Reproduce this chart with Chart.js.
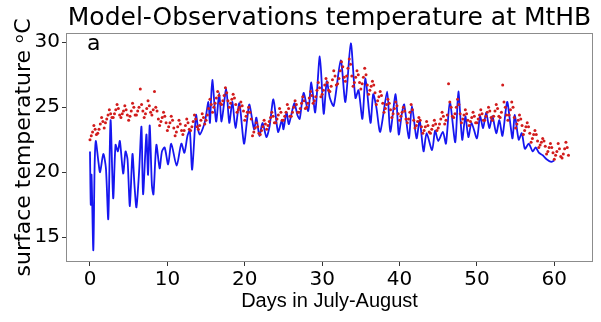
<!DOCTYPE html>
<html>
<head>
<meta charset="utf-8">
<script src="https://cdn.jsdelivr.net/npm/chart.js@4/dist/chart.umd.min.js"></script>
<style>
  html, body { margin: 0; padding: 0; background: #fff; }
  canvas { display: block; }
</style>
</head>
<body>
<canvas id="chart" width="601" height="322"></canvas>
<script>
/* Model vs observations at MtHB */
const xTicks = [0, 10, 20, 30, 40, 50, 60]
const yTicks = [15, 20, 25, 30]

// model (blue line): peaks and troughs, day -> temperature
const modelDays = [0.0, 0.1, 0.2, 0.43, 0.6, 0.75, 1.07, 1.3, 1.72, 2.06, 2.36, 2.66, 3.0, 3.3, 3.6, 3.86, 4.29, 4.59, 4.85, 5.15,
  5.49, 5.75, 6.0, 6.35, 6.65, 6.86, 7.29, 7.5, 7.72, 8.0, 8.2, 8.58, 9.0, 9.3, 9.65, 10.1, 10.5, 11.2, 11.8, 12.2,
  12.6, 12.9, 13.2, 13.7, 14.0, 14.2, 14.6, 14.9, 15.3, 15.5, 15.8, 16.3, 16.7, 17.0, 17.6, 18.0, 18.4, 18.8, 19.3, 19.9,
  20.3, 20.6, 21.2, 21.5, 21.9, 22.3, 22.8, 23.2, 23.7, 24.3, 24.8, 25.0, 25.4, 25.7, 26.4, 26.8, 27.1, 27.6, 28.2, 28.6,
  29.1, 29.7, 30.2, 30.6, 31.0, 31.5, 32.4, 33.0, 33.7, 34.3, 34.7, 35.2, 35.6, 36.25, 36.6, 37.0, 37.5, 38.4, 38.8, 39.5,
  39.9, 40.3, 40.6, 41.2, 41.6, 42.2, 42.6, 43.1, 43.5, 44.2, 44.6, 45.0, 45.6, 46.0, 46.5, 47.2, 47.6, 48.1, 48.5, 48.9,
  49.3, 50.0, 50.4, 50.8, 51.2, 51.6, 52.0, 52.5, 52.9, 53.3, 53.9, 54.3, 54.6, 54.9, 55.4, 55.8, 56.2, 56.7, 57.2, 57.6,
  58.0, 58.5, 59.0, 59.6, 60.0]
const modelTemp = [21.6, 17.5, 19.8, 14.0, 20.5, 22.4, 20.9, 20.0, 21.4, 20.3, 16.4, 24.0, 18.0, 22.1, 21.6, 22.4, 19.9, 21.6, 21.0, 17.4,
  21.4, 19.0, 17.3, 20.1, 23.5, 18.3, 22.9, 19.8, 23.6, 19.0, 18.3, 22.1, 20.3, 21.6, 21.9, 20.6, 22.2, 20.5, 22.2, 21.5,
  22.8, 23.2, 20.2, 24.4, 23.2, 22.9, 23.4, 24.0, 25.4, 23.8, 27.1, 23.9, 26.1, 23.9, 26.4, 23.8, 25.4, 23.4, 25.3, 22.2,
  24.0, 25.2, 23.3, 24.2, 22.8, 23.8, 22.7, 23.5, 25.6, 23.1, 24.0, 23.3, 24.6, 23.7, 25.3, 24.4, 24.1, 26.1, 24.7, 26.9,
  24.6, 28.9, 24.5, 27.0, 25.7, 25.1, 28.6, 25.4, 29.9, 25.7, 26.3, 24.1, 27.2, 23.8, 26.0, 25.0, 23.1, 26.2, 23.1, 26.0,
  22.9, 24.5, 25.2, 22.6, 25.1, 22.6, 24.0, 21.6, 23.0, 21.7, 23.2, 22.4, 23.1, 22.2, 25.4, 22.3, 26.2, 22.5, 24.3, 22.7,
  23.8, 22.6, 24.3, 23.4, 24.6, 23.4, 24.3, 23.0, 24.0, 22.8, 25.4, 23.8, 22.6, 24.4, 22.5, 23.0, 21.8, 22.2, 21.6, 21.9,
  21.5, 21.3, 21.0, 20.8, 20.9]

// observations (red dots): six readings a day from day 0, one row per day
const obsStep = 1 / 6
const obsTemp = [
  22.5, 22.8, 23.1, 23.6, 23.3, 22.9,   23.0, 23.3, 23.7, 24.2, 23.9, 23.4,   23.8, 24.1, 24.4, 24.8, 24.5, 24.2,
  24.2, 24.5, 24.8, 25.2, 24.9, 24.4,   24.2, 24.5, 24.7, 25.1, 24.8, 24.4,   24.0, 24.3, 24.7, 25.3, 25.0, 24.4,
  24.4, 24.7, 25.0, 26.4, 25.2, 24.7,   24.2, 24.5, 24.9, 25.5, 25.1, 24.6,   24.4, 24.8, 26.2, 25.0, 24.7, 24.1,
  23.6, 23.9, 24.2, 24.6, 24.3, 23.8,   23.2, 23.5, 23.8, 24.3, 24.0, 23.4,   22.8, 23.1, 23.5, 24.0, 23.7, 23.2,
  22.9, 23.2, 23.6, 24.1, 23.8, 23.3,   23.2, 23.5, 23.9, 24.4, 24.1, 23.5,   23.3, 23.6, 24.0, 24.5, 24.2, 23.7,
  24.0, 24.4, 24.9, 25.6, 25.2, 24.6,   25.0, 25.3, 25.7, 26.2, 25.9, 25.3,   25.2, 25.5, 25.9, 26.5, 26.1, 25.5,
  25.0, 25.3, 25.6, 26.0, 25.7, 25.2,   24.6, 24.8, 25.0, 25.4, 25.1, 24.7,   24.0, 24.3, 24.6, 25.0, 24.6, 24.1,
  22.8, 23.1, 23.4, 23.8, 23.5, 23.0,   22.9, 23.2, 23.5, 24.0, 23.7, 23.3,   23.6, 23.9, 24.2, 24.6, 24.3, 23.8,
  23.8, 24.1, 24.4, 24.9, 24.6, 24.0,   24.0, 24.3, 24.6, 25.2, 24.9, 24.3,   24.3, 24.6, 25.0, 25.5, 25.2, 24.6,
  24.6, 24.9, 25.3, 25.8, 25.5, 24.9,   25.0, 25.3, 25.7, 26.2, 25.9, 25.3,   25.5, 25.8, 26.3, 26.9, 26.5, 25.8,
  26.0, 26.3, 26.7, 27.2, 26.9, 26.3,   26.2, 26.6, 27.1, 27.8, 27.4, 26.7,   26.8, 27.2, 27.8, 28.5, 28.1, 27.3,
  27.0, 27.4, 28.0, 28.7, 28.3, 27.4,   26.6, 26.9, 27.3, 27.8, 27.5, 26.9,   26.4, 26.8, 27.3, 28.0, 27.5, 26.7,
  26.0, 26.3, 26.6, 27.0, 26.7, 26.1,   25.2, 25.5, 25.8, 26.2, 25.9, 25.3,   24.6, 24.9, 25.2, 25.6, 25.3, 24.8,
  24.2, 24.5, 24.9, 25.4, 25.1, 24.5,   24.0, 24.3, 24.6, 25.0, 24.7, 24.1,   23.8, 24.1, 24.6, 25.2, 24.8, 24.0,
  23.4, 23.6, 23.9, 24.2, 24.0, 23.5,   23.0, 23.2, 23.5, 23.9, 23.6, 23.1,   23.0, 23.3, 23.6, 24.0, 23.7, 23.2,
  23.4, 23.7, 24.1, 24.6, 24.3, 23.7,   24.0, 24.4, 26.8, 25.4, 25.0, 24.3,   24.2, 24.5, 25.0, 25.6, 25.2, 24.5,
  23.8, 24.1, 24.4, 24.8, 24.5, 24.0,   23.6, 23.9, 24.2, 24.6, 24.3, 23.8,   23.8, 24.1, 24.4, 24.8, 24.5, 24.0,
  24.0, 24.3, 24.6, 25.0, 24.7, 24.2,   24.0, 24.3, 24.7, 25.2, 24.9, 24.3,   24.2, 24.6, 26.7, 25.4, 25.0, 24.4,
  24.0, 24.4, 24.8, 25.4, 25.0, 24.2,   23.4, 23.7, 24.0, 24.4, 24.1, 23.6,   22.9, 23.2, 23.5, 23.8, 23.5, 23.0,
  22.3, 22.6, 22.9, 23.2, 22.9, 22.4,   21.9, 22.1, 22.3, 22.6, 22.4, 22.0,   21.4, 21.6, 21.9, 22.2, 21.9, 21.5,
  21.0, 21.3, 21.6, 22.2, 21.8, 21.2,   21.1, 21.4, 21.8, 22.3, 21.9, 21.3
]

const FONT = '"DejaVu Sans", sans-serif'

// grey box round the plot plus the panel letter
const frame = {
  id: 'frame',
  afterDatasetsDraw (chart) {
    const { ctx, chartArea: a } = chart
    ctx.save()
    ctx.strokeStyle = '#8c8c8c'
    ctx.lineWidth = 1
    ctx.strokeRect(a.left + .5, a.top + .5, a.right - a.left - 1, a.bottom - a.top - 1)
    ctx.fillStyle = '#000'
    ctx.font = '22px ' + FONT
    ctx.textBaseline = 'alphabetic'
    ctx.fillText('a', a.left + 21, a.top + 17)
    ctx.restore()
  }
}

const tickStyle = { drawOnChartArea: false, drawTicks: true, tickLength: 4, tickColor: '#333', tickWidth: 1 }

new Chart(document.getElementById('chart'), {
  type: 'scatter',
  data: {
    datasets: [{
      label: 'Observations',
      data: obsTemp.map((t, i) => ({ x: i * obsStep, y: t })),
      pointRadius: 1.5,
      pointBackgroundColor: '#d21c1c',
      pointBorderWidth: 0,
      showLine: false,
      order: 0
    }, {
      label: 'Model',
      data: modelDays.map((d, i) => ({ x: d, y: modelTemp[i] })),
      showLine: true,
      borderColor: '#1616f0',
      borderWidth: 1.8,
      tension: 0.25,
      pointRadius: 0,
      order: 1
    }]
  },
  options: {
    responsive: false,
    animation: false,
    devicePixelRatio: 1,
    layout: { padding: { left: 0, right: 8, top: 0, bottom: 0 } },
    plugins: {
      legend: { display: false },
      tooltip: { enabled: false },
      title: {
        display: true,
        fullSize: false,
        text: 'Model-Observations temperature at MtHB',
        color: '#000',
        font: { family: FONT, size: 25, weight: 'normal', lineHeight: 1 },
        padding: { top: 6, bottom: 2 }
      }
    },
    scales: {
      x: {
        type: 'linear',
        min: -3.1,
        max: 65,
        afterBuildTicks: s => { s.ticks = xTicks.map(v => ({ value: v })) },
        afterFit: s => { s.height = 60; s.paddingLeft = 0; s.paddingRight = 0 },
        ticks: { color: '#000', font: { family: FONT, size: 20 }, padding: 2, maxRotation: 0, autoSkip: false },
        grid: tickStyle,
        border: { display: false },
        title: {
          display: true,
          text: 'Days in July-August',
          color: '#000',
          font: { family: '"Liberation Sans", Arial, sans-serif', size: 20 },
          padding: { top: 0, bottom: 9 }
        }
      },
      y: {
        min: 13.1,
        max: 30.7,
        afterBuildTicks: s => { s.ticks = yTicks.map(v => ({ value: v })) },
        afterFit: s => { s.width = 66; s.paddingTop = 0; s.paddingBottom = 0 },
        ticks: { color: '#000', font: { family: FONT, size: 20 }, padding: 2, autoSkip: false },
        grid: tickStyle,
        border: { display: false },
        title: {
          display: true,
          text: 'surface temperature ᵒC',
          color: '#000',
          font: { family: FONT, size: 22 },
          padding: { top: 11, bottom: 0 }
        }
      }
    }
  },
  plugins: [frame]
})
</script>
</body>
</html>
